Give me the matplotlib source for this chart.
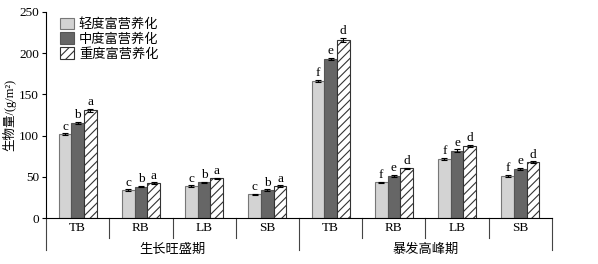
import numpy as np
import matplotlib
matplotlib.use("Agg")
import matplotlib.pyplot as plt

plt.rcParams['font.family'] = ['Liberation Serif', 'Noto Sans CJK SC']
plt.rcParams['hatch.linewidth'] = 0.8

organs = ["TB", "RB", "LB", "SB"]
stages = ["生长旺盛期", "暴发高峰期"]
levels = ["轻度富营养化", "中度富营养化", "重度富营养化"]

# biomass per bar, order: stage1 TB RB LB SB, stage2 TB RB LB SB
light = [101.5, 34, 38.8, 28.8, 166.5, 43.3, 71.6, 51.3]
medium = [115.7, 38, 43.3, 34, 192.6, 51.3, 81.7, 59.5]
heavy = [130.7, 42.5, 48.2, 38.8, 215.5, 60.3, 87.7, 67.6]
err_light = [1.2, 0.8, 0.8, 0.8, 1.5, 1.0, 1.2, 1.0]
err_medium = [1.2, 0.8, 0.8, 0.8, 1.5, 1.0, 1.5, 1.0]
err_heavy = [1.5, 0.8, 0.8, 0.8, 2.5, 1.0, 1.2, 1.0]
letters_light = ["c", "c", "c", "c", "f", "f", "f", "f"]
letters_medium = ["b", "b", "b", "b", "e", "e", "e", "e"]
letters_heavy = ["a", "a", "a", "a", "d", "d", "d", "d"]

fs = 9.5

fig = plt.figure(figsize=(5.98, 2.64), dpi=100)
ax = fig.add_axes([0.077, 0.174, 0.846, 0.781])

x = np.arange(8) + 0.5
w = 0.2
series = [
    (light, err_light, letters_light, dict(color="#d3d3d3", edgecolor="#777777")),
    (medium, err_medium, letters_medium, dict(color="#666666", edgecolor="#555555")),
    (heavy, err_heavy, letters_heavy, dict(color="white", edgecolor="#333333", hatch="////")),
]
for k, (vals, errs, lets, style) in enumerate(series):
    pos = x + (k - 1) * w
    ax.bar(pos, vals, w, yerr=errs, linewidth=0.8, label=levels[k],
           error_kw=dict(ecolor="black", elinewidth=0.8, capsize=2, capthick=0.8), **style)
    for p, v, e, t in zip(pos, vals, errs, lets):
        ax.text(p, v + e + 1.0, t, ha="center", va="bottom", fontsize=fs)

ax.set_xlim(0, 8)
ax.set_ylim(0, 250)
ax.set_yticks(range(0, 251, 50))
ax.tick_params(axis="y", labelsize=fs, length=3, width=0.8, pad=2)
ax.set_xticks([])
ax.spines["top"].set_visible(False)
ax.spines["right"].set_visible(False)
ax.set_ylabel("生物量/(g/m²)", fontsize=9, labelpad=2)

# category separators and labels under the axis
trans = ax.get_xaxis_transform()
for i in range(9):
    low = -0.155 if i % 4 == 0 else -0.097
    ax.plot([i, i], [0, low], transform=trans, color="#444444", lw=0.8, clip_on=False)
for i in range(8):
    ax.text(i + 0.5, -0.05, organs[i % 4], transform=trans, ha="center", va="center", fontsize=fs)
for j, s in enumerate(stages):
    ax.text(j * 4 + 2, -0.155, s, transform=trans, ha="center", va="center", fontsize=fs)

ax.legend(loc="upper left", bbox_to_anchor=(0.005, 1.03), frameon=False, fontsize=fs,
          handlelength=1.0, handleheight=1.0, handletextpad=0.4, labelspacing=0.1)

fig.savefig("out.png", dpi=100)
